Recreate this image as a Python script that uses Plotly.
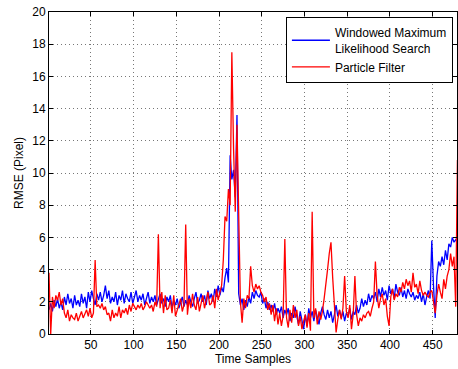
import plotly.graph_objects as go

# sample index (every second time sample)
samples = list(range(1, 480, 2))

wmls = [
    1.5, 1.9, 1.4, 2.1, 1.7,
    2.2, 1.6, 2.0, 1.5, 2.3,
    1.8, 2.5, 1.9, 2.2, 1.6,
    2.4, 1.8, 2.1, 1.7, 2.5,
    1.9, 2.3, 1.6, 2.6, 2.0,
    2.7, 2.2, 1.8, 2.5, 2.1,
    2.6, 2.0, 2.4, 3.0, 2.2,
    2.7, 1.9, 2.3, 2.0, 2.6,
    1.8, 2.4, 2.1, 2.7, 1.9,
    2.5, 2.2, 2.0, 2.6, 1.9,
    2.3, 2.7, 2.0, 2.4, 2.1,
    2.5, 1.8, 2.2, 2.6, 1.9,
    2.3, 2.0, 2.4, 1.8, 2.1,
    2.5, 1.9, 2.2, 1.7, 2.3,
    2.0, 2.4, 1.6, 2.1, 1.8,
    2.2, 1.6, 2.0, 2.3, 1.7,
    2.1, 1.8, 2.4, 2.0, 1.7,
    2.2, 2.6, 1.9, 2.1, 2.5,
    2.0, 2.4, 1.8, 2.7, 2.2,
    2.5, 2.0, 2.8, 2.3, 3.0,
    2.4, 2.9, 2.6, 3.5, 4.1,
    3.2, 11.1, 9.6, 10.2, 8.5,
    13.6, 2.5, 1.8, 2.2, 1.5,
    2.1, 1.7, 2.3, 1.9, 2.6,
    2.2, 2.7, 2.4, 2.3, 2.6,
    1.9, 2.2, 1.6, 2.0, 1.5,
    1.8, 1.4, 1.9, 1.2, 1.6,
    1.3, 1.7, 1.0, 1.5, 1.2,
    1.6, 0.8, 1.3, 1.0, 1.7,
    1.1, 0.6, 1.4, 0.9, 0.3,
    1.2, 0.5, 1.6, 1.0, 1.4,
    0.8, 1.5, 1.1, 0.6, 1.3,
    1.7, 1.2, 0.9, 1.5, 1.0,
    1.4, 0.7, 1.2, 1.8, 1.1,
    1.5, 1.0, 1.4, 0.8, 1.3,
    1.1, 1.6, 0.9, 1.4, 1.2,
    1.8, 1.3, 1.6, 2.2, 1.7,
    2.1, 1.8, 2.5, 2.0, 2.4,
    2.2, 2.6, 2.0, 2.8, 2.3,
    2.9, 2.4, 2.7, 2.1, 3.0,
    2.5, 2.8, 2.2, 3.1, 2.6,
    2.4, 2.9, 2.3, 2.7, 2.2,
    2.8, 2.5, 2.3, 2.6, 2.1,
    2.4, 2.2, 2.6, 2.0, 2.5,
    1.8, 2.3, 2.7, 2.2, 5.8,
    3.0, 1.0, 3.6, 4.5, 4.2,
    4.8, 4.3, 5.2, 4.6, 5.6,
    5.4, 6.0, 5.7, 5.9, 6.0,
]

pf = [
    3.8, 0.0, 2.3, 1.6, 2.4,
    2.1, 2.6, 1.8, 2.2, 1.3,
    1.0, 1.5, 0.8, 1.2, 1.0,
    0.9, 1.3, 0.8, 1.1, 1.4,
    1.0, 1.3, 1.5, 1.1, 1.6,
    1.0, 1.3, 4.6, 1.7, 1.8,
    1.6, 1.9, 1.5, 1.7, 1.2,
    1.3, 0.8, 1.5, 1.0, 1.3,
    1.1, 1.7, 1.0, 1.5, 1.3,
    1.6, 1.2, 1.8, 1.4, 1.9,
    1.7, 1.5, 1.8, 1.6, 1.9,
    1.5, 1.7, 2.0, 1.8, 1.6,
    1.8, 1.4, 2.0, 1.7, 6.2,
    1.6, 2.6, 1.3, 2.4, 1.5,
    1.6, 2.1, 1.3, 2.4, 1.1,
    1.5, 1.9, 2.2, 1.4, 1.8,
    6.8, 1.2, 2.2, 1.6, 2.5,
    1.8, 1.5, 2.3, 1.4, 1.9,
    2.4, 1.6, 2.2, 2.6, 1.8,
    1.9, 2.4, 1.6, 2.8, 2.1,
    2.6, 3.0, 4.6, 7.3, 7.0,
    9.0, 8.0, 17.5, 11.5, 7.6,
    13.0, 6.0, 2.0, 0.7, 2.2,
    1.6, 2.4, 2.2, 4.2, 3.0,
    2.6, 3.1, 2.8, 3.0, 2.6,
    2.4, 2.0, 2.3, 1.5, 1.9,
    1.2, 1.8, 0.8, 1.6, 0.6,
    1.3, 0.5, 1.1, 5.9, 1.0,
    0.4, 1.5, 0.7, 1.8, 1.0,
    1.5, 0.5, 1.1, 0.3, 0.8,
    1.2, 0.4, 1.3, 0.2, 7.6,
    1.0, 1.6, 0.6, 1.4, 0.9,
    1.4, 2.2, 3.0, 4.0, 5.0,
    5.7, 3.5, 1.8, 0.1, 0.9,
    1.5, 0.9, 1.6, 3.6, 1.4,
    1.0, 1.8, 0.3, 1.2, 3.6,
    1.2, 0.5, 1.0, 0.8, 1.2,
    1.0, 1.3, 1.4, 1.1, 1.6,
    2.0, 4.5, 2.4, 1.6, 2.2,
    2.5, 1.8, 2.2, 1.1, 0.5,
    2.3, 2.8, 2.1, 2.5, 2.3,
    2.9, 2.6, 3.2, 2.8, 3.4,
    3.0, 3.3, 2.6, 3.8, 2.9,
    3.1, 2.5, 3.3, 2.7, 2.4,
    2.6, 2.4, 2.3, 2.6, 2.7,
    2.0, 1.3, 2.4, 3.1, 2.6,
    2.2, 3.4, 2.8, 3.6, 4.0,
    5.0, 4.2, 4.8, 1.7, 10.8,
]

x_ticks = [50, 100, 150, 200, 250, 300, 350, 400, 450]
y_ticks = [0, 2, 4, 6, 8, 10, 12, 14, 16, 18, 20]

FONT = "Liberation Sans, Arial, Helvetica, sans-serif"

fig = go.Figure()
fig.add_trace(go.Scatter(
    x=samples, y=wmls, mode="lines",
    name="Windowed Maximum<br>Likelihood Search",
    line=dict(color="#0000ff", width=1.3),
))
fig.add_trace(go.Scatter(
    x=samples, y=pf, mode="lines",
    name="Particle Filter",
    line=dict(color="#ff0000", width=1.3),
))

axis_common = dict(
    showline=True, linecolor="black", linewidth=1, mirror="ticks",
    ticks="inside", ticklen=4, tickcolor="black", tickwidth=1,
    showgrid=True, gridcolor="#777777", gridwidth=1, griddash="1px,3px",
    zeroline=False,
    tickfont=dict(family=FONT, size=12, color="black"),
)

fig.update_xaxes(
    range=[1, 478.5], tickvals=x_ticks,
    title=dict(text="Time Samples", font=dict(family=FONT, size=12, color="black"), standoff=1),
    **axis_common,
)
fig.update_yaxes(
    range=[0, 20], tickvals=y_ticks,
    title=dict(text="RMSE (Pixel)", font=dict(family=FONT, size=12, color="black"), standoff=6),
    **axis_common,
)

fig.update_layout(
    width=458, height=369,
    margin=dict(l=49, r=1, t=12, b=35, pad=0),
    paper_bgcolor="white", plot_bgcolor="white",
    font=dict(family=FONT, size=12, color="black"),
    showlegend=True,
    legend=dict(
        x=0.99, y=0.984, xanchor="right", yanchor="top",
        bgcolor="white", bordercolor="black", borderwidth=1,
        font=dict(family=FONT, size=12, color="black"),
        itemwidth=38, tracegroupgap=0,
    ),
)

fig.write_html("out.html")
